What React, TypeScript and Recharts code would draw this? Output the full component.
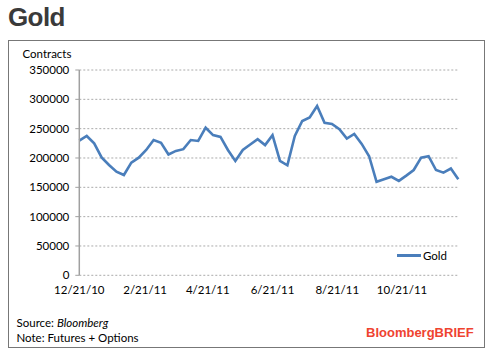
import { CartesianGrid, Line, LineChart, XAxis, YAxis } from "recharts";

// weekly open interest, futures + options, starting 12/21/10
const startDate = "2010-12-21";
const goldContracts = [
  229500, 237500, 225000, 201000, 188000, 176600, 171000, 192000, 200500, 213600,
  230600, 226000, 206000, 212000, 215000, 230600, 229000, 251600, 239000, 236000,
  213600, 195000, 213600, 223000, 232000, 222000, 239000, 195000, 187500, 237500,
  263000, 269000, 288600, 260000, 258000, 249000, 233000, 241000, 224000, 203000,
  159500, 163700, 168000, 161000, 170000, 179500, 200500, 203000, 179500, 175000,
  182000, 163700,
];
const xTickDates = ["2010-12-21", "2011-02-21", "2011-04-21", "2011-06-21", "2011-08-21", "2011-10-21"];
const xTickLabels = ["12/21/10", "2/21/11", "4/21/11", "6/21/11", "8/21/11", "10/21/11"];
const yTicks = [0, 50000, 100000, 150000, 200000, 250000, 300000, 350000];

const DAY = 86400000;
const dayOffset = (iso: string) => Math.round((Date.parse(iso) - Date.parse(startDate)) / DAY);

const data = goldContracts.map((v, i) => ({ day: i * 7, value: v }));
const xTicks = xTickDates.map(dayOffset);
const lastDay = data[data.length - 1].day;

const blue = "#4a7ebb";
const axisFont = "Lato, 'Open Sans', sans-serif";

export default function App() {
  return (
    <div style={{ position: "absolute", left: 0, top: 0, width: 494, height: 364, background: "#fff", overflow: "hidden" }}>
      <div style={{
        position: "absolute", left: 8, top: 4, fontFamily: "'Liberation Sans', Arial, sans-serif",
        fontWeight: 700, fontSize: 26, lineHeight: "26px", color: "#3a3a3a", letterSpacing: -0.6,
      }}>Gold</div>
      <div style={{
        position: "absolute", left: 8, top: 40, width: 477, height: 308,
        border: "1px solid #777", boxSizing: "border-box",
      }} />
      <div style={{ position: "absolute", left: 22.5, top: 48, fontFamily: axisFont, fontSize: 11.5, lineHeight: "11.5px", color: "#000" }}>
        Contracts
      </div>
      <div style={{ position: "absolute", left: 0, top: 0 }}>
        <LineChart width={494} height={364} data={data}
          margin={{ top: 70, right: 35.7, bottom: 58.7, left: 19.3 }}>
          <CartesianGrid vertical={false} stroke="#aaa" strokeDasharray="2 2" />
          <XAxis dataKey="day" type="number" domain={[0, lastDay]} ticks={xTicks}
            tickFormatter={(d: number) => xTickLabels[xTicks.indexOf(d)] ?? ""}
            axisLine={false} tickLine={false} tickSize={0} tickMargin={11}
            tick={{ fill: "#000", fontSize: 11.5, fontFamily: axisFont }} height={30} />
          <YAxis domain={[0, 350000]} ticks={yTicks} width={60}
            axisLine={{ stroke: "#a0a0a0", strokeWidth: 1.5 }} tickLine={{ stroke: "#a0a0a0" }}
            tickSize={4} tickMargin={6}
            tick={{ fill: "#000", fontSize: 11.5, fontFamily: axisFont }} />
          <Line type="linear" dataKey="value" name="Gold" stroke={blue} strokeWidth={2.6}
            dot={false} isAnimationActive={false} />
        </LineChart>
      </div>
      <div style={{
        position: "absolute", left: 397, top: 249, display: "flex", alignItems: "center",
        fontFamily: axisFont, fontSize: 11.5, lineHeight: "13px", color: "#000",
      }}>
        <span style={{ display: "inline-block", width: 24, height: 2.5, background: blue, marginRight: 2 }} />
        Gold
      </div>
      <div style={{ position: "absolute", left: 16.5, top: 315, fontFamily: axisFont, fontSize: 11.5, lineHeight: "15px", color: "#000" }}>
        <div>Source: <i>Bloomberg</i></div>
        <div>Note: Futures + Options</div>
      </div>
      <div style={{
        position: "absolute", left: 366, top: 326, fontFamily: "'Liberation Sans', Arial, sans-serif",
        fontWeight: 700, fontSize: 13, lineHeight: "13px", color: "#ef4330",
      }}>BloombergBRIEF</div>
    </div>
  );
}
